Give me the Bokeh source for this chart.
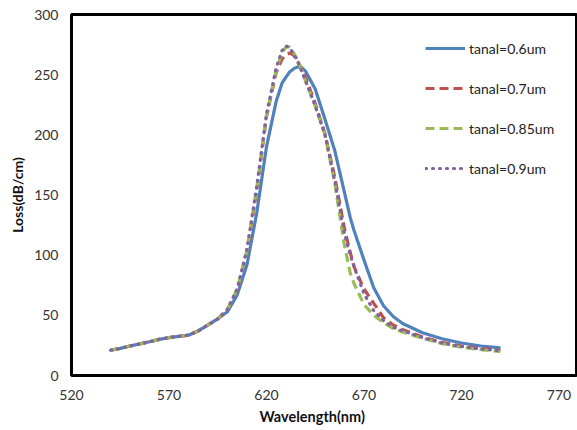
from bokeh.plotting import figure
from bokeh.models import Range1d, FixedTicker, Legend, LegendItem, Title
from bokeh.embed import file_html
from bokeh.resources import INLINE

wavelength = [540, 545, 550, 555, 560, 565, 570, 575, 580, 585, 590, 595,
              600, 605, 610, 615, 620, 625, 628, 630, 632, 634, 636, 638, 640,
              645, 650, 655, 660, 663, 665, 670, 675, 680, 685, 690, 700, 710,
              720, 730, 740]

low_part = [21, 22.5, 24.5, 26.3, 28, 30, 31.5, 32.5, 33.5, 37, 42, 47]

loss_06 = low_part + [53, 67, 92, 135, 190, 228, 243, 248, 252.5, 255, 256.5, 256, 253,
                      238, 213, 187, 152, 131, 120, 96, 73, 58, 49, 43, 35.5, 30.5,
                      27, 24.5, 23]
loss_07 = low_part + [55, 71, 103, 153, 215, 252, 263, 266.5, 268, 266, 261, 255, 248,
                      226, 201, 165, 122, 102, 90, 72, 60, 48, 42, 38, 32, 27.5,
                      24.5, 22.5, 21]
loss_085 = low_part + [55, 72, 104, 156, 216, 254, 268, 273, 273, 268, 262, 254, 245,
                       224, 200, 160, 108, 85, 76, 59, 50, 44, 39, 36, 31, 26.5,
                       23.5, 21.5, 20]
loss_09 = low_part + [55, 72, 105, 157, 217, 256, 270, 274, 272, 267, 261, 253, 245,
                      224, 200, 162, 118, 100, 90, 68, 54, 45.5, 40, 37, 31.5, 27,
                      24, 22, 20.5]

series_labels = ["tanal=0.6um", "tanal=0.7um", "tanal=0.85um", "tanal=0.9um"]
x_ticks = [520, 570, 620, 670, 720, 770]
y_ticks = [0, 50, 100, 150, 200, 250, 300]

p = figure(width=577, height=430, output_backend="svg", toolbar_location=None,
           x_range=Range1d(520, 779), y_range=Range1d(0, 300),
           min_border_left=71, min_border_right=1, min_border_top=14,
           min_border_bottom=55)

p.xgrid.visible = False
p.ygrid.visible = False
p.outline_line_color = "black"
p.outline_line_width = 3
p.outline_line_alpha = 1.0
p.background_fill_color = "white"
p.border_fill_color = "white"

for ax in (p.xaxis[0], p.yaxis[0]):
    ax.axis_line_color = None
    ax.major_tick_line_color = None
    ax.minor_tick_line_color = None
    ax.major_tick_out = 0
    ax.major_tick_in = 0
    ax.major_label_text_font = "Lato"
    ax.major_label_text_font_size = "14px"
    ax.major_label_text_color = "#333333"
    ax.axis_label_text_font = "Lato"
    ax.axis_label_text_font_size = "14px"
    ax.axis_label_text_font_style = "bold"
    ax.axis_label_text_color = "#111111"

p.xaxis.ticker = FixedTicker(ticks=x_ticks)
p.yaxis.ticker = FixedTicker(ticks=y_ticks)
p.yaxis.axis_label = "Loss(dB/cm)"
p.xaxis.major_label_standoff = 14
p.yaxis.major_label_standoff = 13
p.yaxis.axis_label_standoff = 5

x_title = Title(text="Wavelength(nm)", align="left", offset=188, standoff=6,
                text_font="Lato", text_font_size="14.5px", text_font_style="bold",
                text_color="#111111")
p.add_layout(x_title, "below")

r1 = p.line(wavelength, loss_06, line_color="#4F81BD", line_width=3.2, line_join="round")
r2 = p.line(wavelength, loss_07, line_color="#C0504D", line_width=3.2, line_dash="9 5")
r3 = p.line(wavelength, loss_085, line_color="#9BBB59", line_width=3.2, line_dash="9 5")
r4 = p.line(wavelength, loss_09, line_color="#8064A2", line_width=3.2, line_dash="1 6",
            line_cap="round")

legend = Legend(items=[LegendItem(label=series_labels[0], renderers=[r1]),
                       LegendItem(label=series_labels[1], renderers=[r2]),
                       LegendItem(label=series_labels[2], renderers=[r3]),
                       LegendItem(label=series_labels[3], renderers=[r4])],
                location=(354, 197), border_line_color=None,
                background_fill_alpha=0, glyph_width=40, glyph_height=20,
                label_height=20, spacing=20, padding=0, margin=0,
                label_standoff=4, label_text_font="Lato",
                label_text_font_size="14px", label_text_color="#222222")
p.add_layout(legend)

open("out.html", "w").write(file_html(p, INLINE))
